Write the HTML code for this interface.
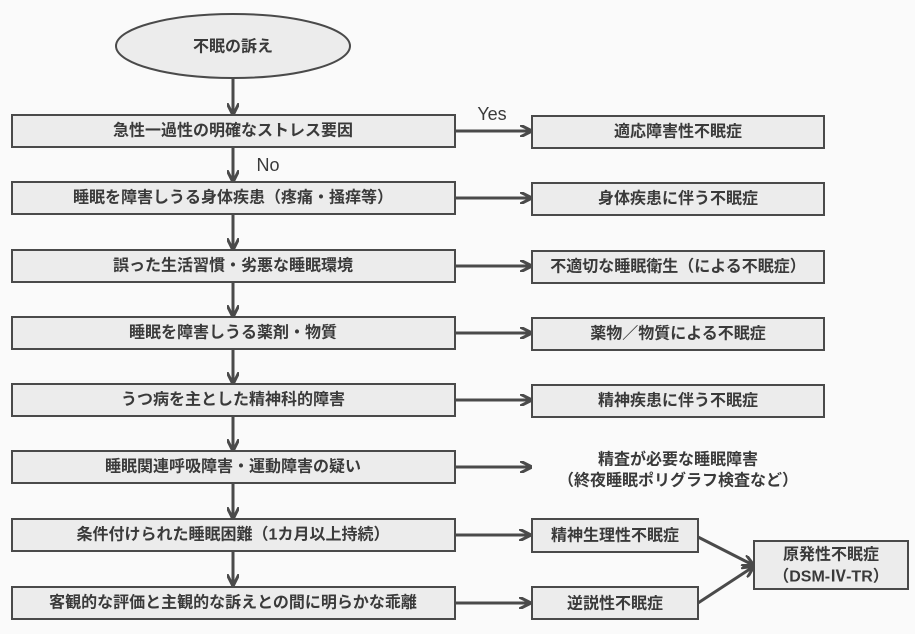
<!DOCTYPE html>
<html><head><meta charset="utf-8"><style>
body{margin:0;background:#fafafa;}
text{font-family:"Liberation Sans","Noto Sans CJK JP",sans-serif;font-size:16px;font-weight:bold;fill:#3a3a3a;text-anchor:middle;dominant-baseline:central;}
.b{fill:#ececec;stroke:#4a4a4a;stroke-width:2;}
.l{stroke:#4a4a4a;stroke-width:3;fill:none;}
</style></head><body>
<svg width="915" height="629" xmlns="http://www.w3.org/2000/svg">
<defs><marker id="a" viewBox="0 0 10 10" refX="9" refY="5" markerWidth="4" markerHeight="4" orient="auto"><path d="M0,0 L10,5 L0,10" fill="none" stroke="#4a4a4a" stroke-width="2.5"/></marker></defs>
<ellipse cx="233" cy="46" rx="117" ry="32" class="b"/>
<text x="233" y="47">不眠の訴え</text>
<g class="l" marker-end="url(#a)">
<line x1="233" y1="78" x2="233" y2="114"/>
<line x1="233" y1="147" x2="233" y2="181"/>
<line x1="233" y1="214" x2="233" y2="249"/>
<line x1="233" y1="282" x2="233" y2="316"/>
<line x1="233" y1="349" x2="233" y2="383"/>
<line x1="233" y1="416" x2="233" y2="450"/>
<line x1="233" y1="483" x2="233" y2="518"/>
<line x1="233" y1="551" x2="233" y2="585"/>
<line x1="455" y1="131" x2="531" y2="131"/>
<line x1="455" y1="198" x2="531" y2="198"/>
<line x1="455" y1="266" x2="531" y2="266"/>
<line x1="455" y1="333" x2="531" y2="333"/>
<line x1="455" y1="400" x2="531" y2="400"/>
<line x1="455" y1="467" x2="531" y2="467"/>
<line x1="455" y1="535" x2="530" y2="535"/>
<line x1="455" y1="603" x2="530" y2="603"/>
<line x1="698" y1="537" x2="753" y2="565"/>
<line x1="698" y1="603" x2="753" y2="567"/>
</g>
<g>
<rect x="12" y="115" width="443" height="32" class="b"/><text x="233" y="131">急性一過性の明確なストレス要因</text>
<rect x="12" y="182" width="443" height="32" class="b"/><text x="233" y="198">睡眠を障害しうる身体疾患（疼痛・掻痒等）</text>
<rect x="12" y="250" width="443" height="32" class="b"/><text x="233" y="266">誤った生活習慣・劣悪な睡眠環境</text>
<rect x="12" y="317" width="443" height="32" class="b"/><text x="233" y="333">睡眠を障害しうる薬剤・物質</text>
<rect x="12" y="384" width="443" height="32" class="b"/><text x="233" y="400">うつ病を主とした精神科的障害</text>
<rect x="12" y="451" width="443" height="32" class="b"/><text x="233" y="467">睡眠関連呼吸障害・運動障害の疑い</text>
<rect x="12" y="519" width="443" height="32" class="b"/><text x="233" y="535">条件付けられた睡眠困難（1カ月以上持続）</text>
<rect x="12" y="587" width="443" height="32" class="b"/><text x="233" y="603">客観的な評価と主観的な訴えとの間に明らかな乖離</text>
<rect x="532" y="116" width="292" height="32" class="b"/><text x="678" y="132">適応障害性不眠症</text>
<rect x="532" y="183" width="292" height="32" class="b"/><text x="678" y="199">身体疾患に伴う不眠症</text>
<rect x="532" y="251" width="292" height="32" class="b"/><text x="678" y="267">不適切な睡眠衛生（による不眠症）</text>
<rect x="532" y="318" width="292" height="32" class="b"/><text x="678" y="334">薬物／物質による不眠症</text>
<rect x="532" y="385" width="292" height="32" class="b"/><text x="678" y="401">精神疾患に伴う不眠症</text>
<text x="678" y="460">精査が必要な睡眠障害</text>
<text x="678" y="481">（終夜睡眠ポリグラフ検査など）</text>
<rect x="532" y="519" width="166" height="33" class="b"/><text x="615" y="536">精神生理性不眠症</text>
<rect x="532" y="587" width="166" height="32" class="b"/><text x="615" y="604">逆説性不眠症</text>
<rect x="754" y="541" width="154" height="48" class="b"/><text x="831" y="555">原発性不眠症</text><text x="831" y="577">（DSM-Ⅳ-TR）</text>
<text x="492" y="114" style="font-size:18px;font-weight:normal">Yes</text>
<text x="268" y="165" style="font-size:18px;font-weight:normal">No</text>
</g>
</svg>
</body></html>
